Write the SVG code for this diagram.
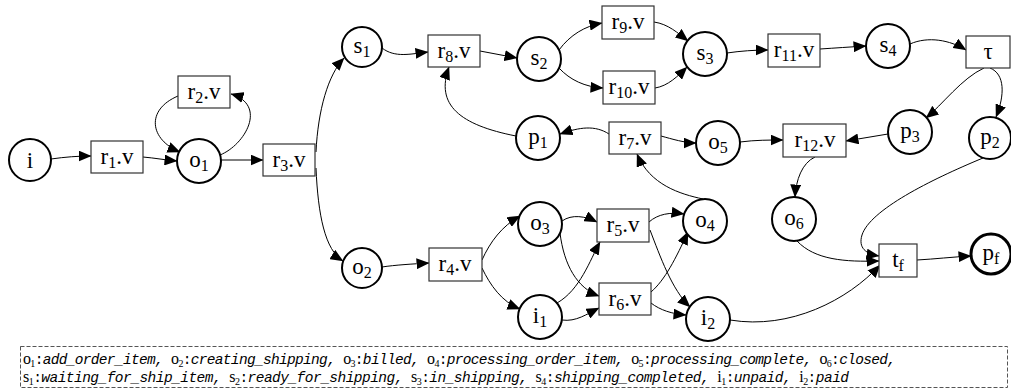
<svg xmlns="http://www.w3.org/2000/svg" width="1011" height="392" viewBox="0 0 1011 392">
<style>
.pl circle{fill:#fff;stroke:#000;stroke-width:2}
.tr rect{fill:#fff;stroke:#333;stroke-width:1.2}
.lb{font-family:"Liberation Serif",serif;font-size:23px;text-anchor:middle;fill:#000}
.sb{font-size:16px}
#edges path{fill:none;stroke:#000;stroke-width:1;marker-end:url(#ah)}
.lg{font-family:"Liberation Mono",monospace;font-size:14.5px;fill:#000}
.it{font-style:italic}
.ls{font-family:"Liberation Serif",serif;font-size:16px;font-style:normal}
.ss{font-family:"Liberation Serif",serif;font-size:10px;font-style:normal}
</style>
<defs>
<marker id="ah" markerWidth="13" markerHeight="11" refX="12.5" refY="5.5" orient="auto" markerUnits="userSpaceOnUse"><path d="M0,0 L13,5.5 L0,11 z" fill="#000"/></marker>
</defs>
<rect width="1011" height="392" fill="#fff"/>
<g id="edges">
<path d="M51,159 C65,157 78,156 91,156"/>
<path d="M143,157 C155,158 165,160 177,161"/>
<path d="M220,155 C245,145 268,105 231,94"/>
<path d="M178,96 C145,110 150,140 180,152"/>
<path d="M221,160 L263,160"/>
<path d="M316,152 C318,110 328,75 344,58"/>
<path d="M316,168 C318,215 325,250 343,261"/>
<path d="M382,267 C395,265 412,264 429,263"/>
<path d="M382,48 C395,58 410,54 428,52"/>
<path d="M480,51 L517,58"/>
<path d="M559,50 C570,35 585,26 602,23"/>
<path d="M559,68 C570,80 585,87 603,88"/>
<path d="M654,22 C668,24 678,33 688,41"/>
<path d="M655,88 C668,86 678,76 687,67"/>
<path d="M727,53 C740,51 755,50 768,50"/>
<path d="M820,49 C835,48 850,47 866,46"/>
<path d="M910,44 C928,36 950,40 966,50"/>
<path d="M984,68 C962,78 942,105 926,118"/>
<path d="M990,68 C1005,74 1005,95 996,117"/>
<path d="M888,134 L846,141"/>
<path d="M983,158 C930,180 870,210 862,235 C858,248 866,254 879,256"/>
<path d="M740,142 C755,140 770,140 783,140"/>
<path d="M661,136 C672,139 685,143 696,143"/>
<path d="M609,134 C595,125 580,127 560,134"/>
<path d="M516,136 C460,125 435,105 449,67"/>
<path d="M703,199 C680,194 650,185 637,154"/>
<path d="M482,260 C490,242 502,226 520,216"/>
<path d="M482,268 C490,285 502,302 520,309"/>
<path d="M562,221 C572,214 585,216 597,222"/>
<path d="M560,233 C564,265 577,288 599,296"/>
<path d="M557,303 C580,290 590,260 600,242"/>
<path d="M562,320 C576,322 587,314 599,308"/>
<path d="M649,222 C658,214 670,212 684,214"/>
<path d="M650,230 C660,256 672,290 690,307"/>
<path d="M651,292 C665,280 676,258 688,232"/>
<path d="M651,303 C660,310 672,314 686,315"/>
<path d="M730,320 C790,330 848,300 880,265"/>
<path d="M797,241 C815,260 845,262 879,261"/>
<path d="M815,157 C802,163 796,180 795,197"/>
<path d="M917,260 C935,259 952,257 971,256"/>
</g>
<g id="n_i" class="pl"><circle cx="30" cy="160" r="21"/><text class="lb" x="30" y="168">i</text></g>
<g id="n_r1" class="tr"><rect x="91" y="141" width="52" height="32"/><text class="lb" x="117" y="164">r<tspan class="sb" dy="4">1</tspan><tspan dy="-4">.v</tspan></text></g>
<g id="n_o1" class="pl"><circle cx="199" cy="161" r="22"/><text class="lb" x="199" y="167">o<tspan class="sb" dy="4">1</tspan></text></g>
<g id="n_r2" class="tr"><rect x="178" y="76" width="52" height="32"/><text class="lb" x="204" y="99">r<tspan class="sb" dy="4">2</tspan><tspan dy="-4">.v</tspan></text></g>
<g id="n_r3" class="tr"><rect x="263" y="144" width="52" height="32"/><text class="lb" x="289" y="167">r<tspan class="sb" dy="4">3</tspan><tspan dy="-4">.v</tspan></text></g>
<g id="n_s1" class="pl"><circle cx="362" cy="47" r="20"/><text class="lb" x="362" y="53">s<tspan class="sb" dy="4">1</tspan></text></g>
<g id="n_r8" class="tr"><rect x="428" y="35" width="52" height="32"/><text class="lb" x="454" y="58">r<tspan class="sb" dy="4">8</tspan><tspan dy="-4">.v</tspan></text></g>
<g id="n_s2" class="pl"><circle cx="539" cy="59" r="22"/><text class="lb" x="539" y="65">s<tspan class="sb" dy="4">2</tspan></text></g>
<g id="n_r9" class="tr"><rect x="602" y="6" width="52" height="33"/><text class="lb" x="628" y="29">r<tspan class="sb" dy="4">9</tspan><tspan dy="-4">.v</tspan></text></g>
<g id="n_r10" class="tr"><rect x="603" y="71" width="52" height="33"/><text class="lb" x="629" y="94">r<tspan class="sb" dy="4">10</tspan><tspan dy="-4">.v</tspan></text></g>
<g id="n_s3" class="pl"><circle cx="705" cy="54" r="22"/><text class="lb" x="705" y="60">s<tspan class="sb" dy="4">3</tspan></text></g>
<g id="n_r11" class="tr"><rect x="768" y="34" width="52" height="33"/><text class="lb" x="794" y="57">r<tspan class="sb" dy="4">11</tspan><tspan dy="-4">.v</tspan></text></g>
<g id="n_s4" class="pl"><circle cx="888" cy="46" r="22"/><text class="lb" x="888" y="52">s<tspan class="sb" dy="4">4</tspan></text></g>
<g id="n_tau" class="tr"><rect x="966" y="36" width="44" height="32"/><text class="lb" x="988" y="59">τ</text></g>
<g id="n_p3" class="pl"><circle cx="910" cy="132" r="22"/><text class="lb" x="910" y="138">p<tspan class="sb" dy="4">3</tspan></text></g>
<g id="n_p2" class="pl"><circle cx="990" cy="138" r="21"/><text class="lb" x="990" y="144">p<tspan class="sb" dy="4">2</tspan></text></g>
<g id="n_r12" class="tr"><rect x="783" y="124" width="63" height="33"/><text class="lb" x="815" y="147">r<tspan class="sb" dy="4">12</tspan><tspan dy="-4">.v</tspan></text></g>
<g id="n_o5" class="pl"><circle cx="718" cy="143" r="22"/><text class="lb" x="718" y="149">o<tspan class="sb" dy="4">5</tspan></text></g>
<g id="n_r7" class="tr"><rect x="609" y="122" width="52" height="32"/><text class="lb" x="635" y="145">r<tspan class="sb" dy="4">7</tspan><tspan dy="-4">.v</tspan></text></g>
<g id="n_p1" class="pl"><circle cx="538" cy="138" r="22"/><text class="lb" x="538" y="144">p<tspan class="sb" dy="4">1</tspan></text></g>
<g id="n_o4" class="pl"><circle cx="705" cy="221" r="22"/><text class="lb" x="705" y="227">o<tspan class="sb" dy="4">4</tspan></text></g>
<g id="n_r5" class="tr"><rect x="597" y="209" width="52" height="33"/><text class="lb" x="623" y="232">r<tspan class="sb" dy="4">5</tspan><tspan dy="-4">.v</tspan></text></g>
<g id="n_o3" class="pl"><circle cx="540" cy="224" r="22"/><text class="lb" x="540" y="230">o<tspan class="sb" dy="4">3</tspan></text></g>
<g id="n_r6" class="tr"><rect x="599" y="283" width="52" height="32"/><text class="lb" x="625" y="306">r<tspan class="sb" dy="4">6</tspan><tspan dy="-4">.v</tspan></text></g>
<g id="n_i1" class="pl"><circle cx="540" cy="317" r="22"/><text class="lb" x="540" y="323">i<tspan class="sb" dy="4">1</tspan></text></g>
<g id="n_i2" class="pl"><circle cx="708" cy="319" r="22"/><text class="lb" x="708" y="325">i<tspan class="sb" dy="4">2</tspan></text></g>
<g id="n_r4" class="tr"><rect x="429" y="248" width="53" height="33"/><text class="lb" x="455" y="271">r<tspan class="sb" dy="4">4</tspan><tspan dy="-4">.v</tspan></text></g>
<g id="n_o2" class="pl"><circle cx="362" cy="268" r="20"/><text class="lb" x="362" y="274">o<tspan class="sb" dy="4">2</tspan></text></g>
<g id="n_o6" class="pl"><circle cx="794" cy="219" r="22"/><text class="lb" x="794" y="225">o<tspan class="sb" dy="4">6</tspan></text></g>
<g id="n_tf" class="tr"><rect x="879" y="244" width="38" height="33"/><text class="lb" x="898" y="267">t<tspan class="sb" dy="4">f</tspan></text></g>
<g id="n_pf" class="pl"><circle cx="991" cy="254" r="20" style="stroke-width:3"/><text class="lb" x="991" y="260">p<tspan class="sb" dy="4">f</tspan></text></g>
<g id="legend">
<rect x="20.5" y="346.5" width="987" height="41" fill="none" stroke="#555" stroke-width="1" stroke-dasharray="4,2"/>
<text class="lg" x="23" y="364" textLength="873" lengthAdjust="spacing"><tspan class="ls">o</tspan><tspan class="ss" dy="3">1</tspan><tspan dy="-3">:</tspan><tspan class="it">add_order_item, </tspan><tspan class="ls">o</tspan><tspan class="ss" dy="3">2</tspan><tspan dy="-3">:</tspan><tspan class="it">creating_shipping, </tspan><tspan class="ls">o</tspan><tspan class="ss" dy="3">3</tspan><tspan dy="-3">:</tspan><tspan class="it">billed, </tspan><tspan class="ls">o</tspan><tspan class="ss" dy="3">4</tspan><tspan dy="-3">:</tspan><tspan class="it">processing_order_item, </tspan><tspan class="ls">o</tspan><tspan class="ss" dy="3">5</tspan><tspan dy="-3">:</tspan><tspan class="it">processing_complete, </tspan><tspan class="ls">o</tspan><tspan class="ss" dy="3">6</tspan><tspan dy="-3">:</tspan><tspan class="it">closed,</tspan></text>
<text class="lg" x="23" y="382" textLength="826" lengthAdjust="spacing"><tspan class="ls">s</tspan><tspan class="ss" dy="3">1</tspan><tspan dy="-3">:</tspan><tspan class="it">waiting_for_ship_item, </tspan><tspan class="ls">s</tspan><tspan class="ss" dy="3">2</tspan><tspan dy="-3">:</tspan><tspan class="it">ready_for_shipping, </tspan><tspan class="ls">s</tspan><tspan class="ss" dy="3">3</tspan><tspan dy="-3">:</tspan><tspan class="it">in_shipping, </tspan><tspan class="ls">s</tspan><tspan class="ss" dy="3">4</tspan><tspan dy="-3">:</tspan><tspan class="it">shipping_completed, </tspan><tspan class="ls">i</tspan><tspan class="ss" dy="3">1</tspan><tspan dy="-3">:</tspan><tspan class="it">unpaid, </tspan><tspan class="ls">i</tspan><tspan class="ss" dy="3">2</tspan><tspan dy="-3">:</tspan><tspan class="it">paid</tspan></text>
</g>
</svg>
